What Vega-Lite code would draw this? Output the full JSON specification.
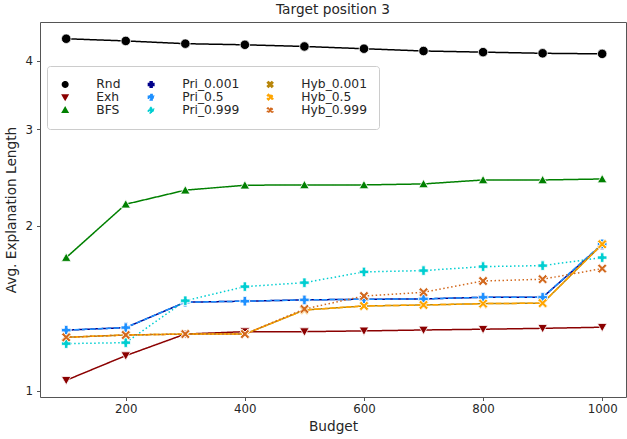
{
  "$schema": "https://vega.github.io/schema/vega-lite/v6.json",
  "width": 586,
  "height": 375,
  "autosize": {"type": "none"},
  "padding": {"left": 40, "top": 22, "right": 1, "bottom": 42},
  "title": {"text": "Target position 3", "fontSize": 13.7, "fontWeight": "normal", "color": "#262626", "offset": 5, "font": "DejaVu Sans"},
  "config": {
    "font": "DejaVu Sans",
    "view": {"stroke": "#555555", "strokeWidth": 1},
    "axis": {"domain": false, "grid": false, "tickSize": 3.5, "tickColor": "#555555", "labelFontSize": 11.8, "labelColor": "#262626", "titleFontSize": 13.7, "titleFontWeight": "normal", "titleColor": "#262626", "labelFont": "DejaVu Sans", "titleFont": "DejaVu Sans"}
  },
  "data": {"values": [
    {"b":100,"m":"Rnd","v":4.39},{"b":200,"m":"Rnd","v":4.35},{"b":300,"m":"Rnd","v":4.30},{"b":400,"m":"Rnd","v":4.28},{"b":500,"m":"Rnd","v":4.25},{"b":600,"m":"Rnd","v":4.21},{"b":700,"m":"Rnd","v":4.17},{"b":800,"m":"Rnd","v":4.15},{"b":900,"m":"Rnd","v":4.13},{"b":1000,"m":"Rnd","v":4.12},
    {"b":100,"m":"Exh","v":1.046},{"b":200,"m":"Exh","v":1.160},{"b":300,"m":"Exh","v":1.270},{"b":400,"m":"Exh","v":1.283},{"b":500,"m":"Exh","v":1.283},{"b":600,"m":"Exh","v":1.287},{"b":700,"m":"Exh","v":1.292},{"b":800,"m":"Exh","v":1.296},{"b":900,"m":"Exh","v":1.301},{"b":1000,"m":"Exh","v":1.307},
    {"b":100,"m":"BFS","v":1.751},{"b":200,"m":"BFS","v":2.191},{"b":300,"m":"BFS","v":2.324},{"b":400,"m":"BFS","v":2.373},{"b":500,"m":"BFS","v":2.376},{"b":600,"m":"BFS","v":2.376},{"b":700,"m":"BFS","v":2.386},{"b":800,"m":"BFS","v":2.426},{"b":900,"m":"BFS","v":2.426},{"b":1000,"m":"BFS","v":2.436},
    {"b":100,"m":"Pri_0.001","v":1.291},{"b":200,"m":"Pri_0.001","v":1.305},{"b":300,"m":"Pri_0.001","v":1.452},{"b":400,"m":"Pri_0.001","v":1.458},{"b":500,"m":"Pri_0.001","v":1.466},{"b":600,"m":"Pri_0.001","v":1.470},{"b":700,"m":"Pri_0.001","v":1.472},{"b":800,"m":"Pri_0.001","v":1.482},{"b":900,"m":"Pri_0.001","v":1.482},{"b":1000,"m":"Pri_0.001","v":1.847},
    {"b":100,"m":"Pri_0.5","v":1.291},{"b":200,"m":"Pri_0.5","v":1.305},{"b":300,"m":"Pri_0.5","v":1.452},{"b":400,"m":"Pri_0.5","v":1.458},{"b":500,"m":"Pri_0.5","v":1.466},{"b":600,"m":"Pri_0.5","v":1.470},{"b":700,"m":"Pri_0.5","v":1.472},{"b":800,"m":"Pri_0.5","v":1.482},{"b":900,"m":"Pri_0.5","v":1.482},{"b":1000,"m":"Pri_0.5","v":1.855},
    {"b":100,"m":"Pri_0.999","v":1.220},{"b":200,"m":"Pri_0.999","v":1.225},{"b":300,"m":"Pri_0.999","v":1.461},{"b":400,"m":"Pri_0.999","v":1.550},{"b":500,"m":"Pri_0.999","v":1.576},{"b":600,"m":"Pri_0.999","v":1.649},{"b":700,"m":"Pri_0.999","v":1.658},{"b":800,"m":"Pri_0.999","v":1.686},{"b":900,"m":"Pri_0.999","v":1.693},{"b":1000,"m":"Pri_0.999","v":1.751},
    {"b":100,"m":"Hyb_0.001","v":1.253},{"b":200,"m":"Hyb_0.001","v":1.265},{"b":300,"m":"Hyb_0.001","v":1.270},{"b":400,"m":"Hyb_0.001","v":1.270},{"b":500,"m":"Hyb_0.001","v":1.405},{"b":600,"m":"Hyb_0.001","v":1.429},{"b":700,"m":"Hyb_0.001","v":1.435},{"b":800,"m":"Hyb_0.001","v":1.443},{"b":900,"m":"Hyb_0.001","v":1.446},{"b":1000,"m":"Hyb_0.001","v":1.852},
    {"b":100,"m":"Hyb_0.5","v":1.253},{"b":200,"m":"Hyb_0.5","v":1.265},{"b":300,"m":"Hyb_0.5","v":1.270},{"b":400,"m":"Hyb_0.5","v":1.270},{"b":500,"m":"Hyb_0.5","v":1.405},{"b":600,"m":"Hyb_0.5","v":1.429},{"b":700,"m":"Hyb_0.5","v":1.435},{"b":800,"m":"Hyb_0.5","v":1.443},{"b":900,"m":"Hyb_0.5","v":1.446},{"b":1000,"m":"Hyb_0.5","v":1.852},
    {"b":100,"m":"Hyb_0.999","v":1.253},{"b":200,"m":"Hyb_0.999","v":1.265},{"b":300,"m":"Hyb_0.999","v":1.270},{"b":400,"m":"Hyb_0.999","v":1.270},{"b":500,"m":"Hyb_0.999","v":1.411},{"b":600,"m":"Hyb_0.999","v":1.490},{"b":700,"m":"Hyb_0.999","v":1.514},{"b":800,"m":"Hyb_0.999","v":1.587},{"b":900,"m":"Hyb_0.999","v":1.599},{"b":1000,"m":"Hyb_0.999","v":1.672}
  ]},
  "encoding": {
    "x": {"field": "b", "type": "quantitative", "scale": {"domain": [56, 1040], "nice": false, "zero": false},
          "axis": {"values": [200, 400, 600, 800, 1000], "format": "d", "title": "Budget", "labelPadding": 3, "titlePadding": 4}},
    "y": {"field": "v", "type": "quantitative", "scale": {"type": "log", "domain": [0.975, 4.71], "nice": false, "zero": false},
          "axis": {"values": [1, 2, 3, 4], "format": "d", "title": "Avg. Explanation Length", "labelPadding": 4, "titlePadding": 6}},
    "color": {"field": "m", "type": "nominal",
      "scale": {"domain": ["Rnd", "Exh", "BFS", "Pri_0.001", "Pri_0.5", "Pri_0.999", "Hyb_0.001", "Hyb_0.5", "Hyb_0.999"],
                "range": ["#000000", "#8b0000", "#008000", "#00008b", "#1e90ff", "#00ced1", "#b8860b", "#ffa500", "#d2691e"]},
      "legend": {"orient": "none", "legendX": 7, "legendY": 44, "columns": 3, "title": null, "symbolSize": 30,
                 "labelOffset": 25, "columnPadding": 24, "rowPadding": -2, "padding": 12,
                 "labelFontSize": 12.3, "labelFont": "DejaVu Sans", "labelColor": "#262626",
                 "fillColor": "rgba(255,255,255,0.8)", "strokeColor": "#cccccc", "cornerRadius": 3}
    }
  },
  "layer": [
    {
      "mark": {"type": "line", "strokeWidth": 1.5},
      "encoding": {
        "strokeDash": {"field": "m", "type": "nominal", "legend": null,
          "scale": {"domain": ["Rnd", "Exh", "BFS", "Pri_0.001", "Pri_0.5", "Pri_0.999", "Hyb_0.001", "Hyb_0.5", "Hyb_0.999"],
                    "range": [[1, 0], [1, 0], [1, 0], [1, 0], [5.5, 2.4], [1.5, 2.5], [1, 0], [5.5, 2.4], [1.5, 2.5]]}}
      }
    },
    {
      "mark": {"type": "point", "filled": true, "size": 90, "opacity": 1, "stroke": "#ffffff", "strokeWidth": 0.8},
      "encoding": {
        "shape": {"field": "m", "type": "nominal", "legend": null,
          "scale": {"domain": ["Rnd", "Exh", "BFS", "Pri_0.001", "Pri_0.5", "Pri_0.999", "Hyb_0.001", "Hyb_0.5", "Hyb_0.999"],
                    "range": [
                      "M-1,0A1,1 0 1,0 1,0A1,1 0 1,0 -1,0Z",
                      "M-1,-0.8L1,-0.8L0,0.95Z",
                      "M-1,0.8L1,0.8L0,-0.95Z",
                      "M-0.36,-1H0.36V-0.36H1V0.36H0.36V1H-0.36V0.36H-1V-0.36H-0.36Z",
                      "M-0.36,-1H0.36V-0.36H1V0.36H0.36V1H-0.36V0.36H-1V-0.36H-0.36Z",
                      "M-0.36,-1H0.36V-0.36H1V0.36H0.36V1H-0.36V0.36H-1V-0.36H-0.36Z",
                      "M-1,-0.6L-0.6,-1L0,-0.4L0.6,-1L1,-0.6L0.4,0L1,0.6L0.6,1L0,0.4L-0.6,1L-1,0.6L-0.4,0Z",
                      "M-1,-0.6L-0.6,-1L0,-0.4L0.6,-1L1,-0.6L0.4,0L1,0.6L0.6,1L0,0.4L-0.6,1L-1,0.6L-0.4,0Z",
                      "M-1,-0.6L-0.6,-1L0,-0.4L0.6,-1L1,-0.6L0.4,0L1,0.6L0.6,1L0,0.4L-0.6,1L-1,0.6L-0.4,0Z"
                    ]}}
      }
    }
  ]
}
